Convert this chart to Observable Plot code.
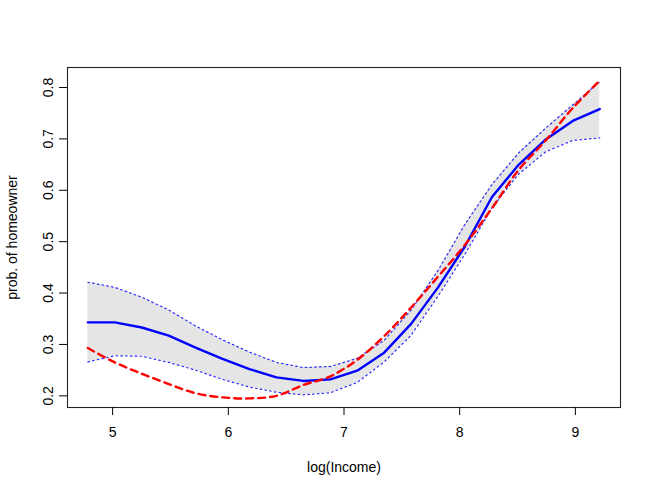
<!DOCTYPE html>
<html>
<head>
<meta charset="utf-8">
<script src="https://cdn.jsdelivr.net/npm/d3@7"></script>
<script src="https://cdn.jsdelivr.net/npm/@observablehq/plot@0.6"></script>
<style>
  html, body { margin: 0; padding: 0; background: #fff; }
  #chart svg { display: block; }
</style>
</head>
<body>
<div id="chart"></div>
<script>
// log(Income) grid
const logIncome = [4.786, 5.019, 5.252, 5.485, 5.717, 5.950, 6.183, 6.416, 6.649, 6.882,
                   7.114, 7.347, 7.580, 7.813, 8.046, 8.279, 8.511, 8.744, 8.977, 9.210];
// fitted probability (blue solid)
const fitted = [0.343, 0.343, 0.333, 0.317, 0.294, 0.272, 0.252, 0.236, 0.229, 0.232,
                0.249, 0.284, 0.340, 0.411, 0.491, 0.587, 0.650, 0.699, 0.735, 0.758];
// upper confidence bound (blue dotted)
const upper = [0.421, 0.411, 0.392, 0.367, 0.336, 0.309, 0.285, 0.265, 0.255, 0.257,
               0.273, 0.308, 0.367, 0.444, 0.534, 0.611, 0.673, 0.721, 0.766, 0.811];
// lower confidence bound (blue dotted)
const lower = [0.266, 0.278, 0.277, 0.265, 0.250, 0.232, 0.217, 0.207, 0.202, 0.206,
               0.226, 0.266, 0.318, 0.394, 0.476, 0.566, 0.632, 0.675, 0.697, 0.702];
// parametric fit (red dashed)
const parametric = [0.293, 0.265, 0.243, 0.223, 0.205, 0.197, 0.195, 0.200, 0.221, 0.238,
                    0.270, 0.316, 0.372, 0.432, 0.494, 0.565, 0.640, 0.697, 0.760, 0.813];

const xTicks = [5, 6, 7, 8, 9];
const yTicks = [0.2, 0.3, 0.4, 0.5, 0.6, 0.7, 0.8];

const data = logIncome.map((x, i) => ({
  x, fit: fitted[i], hi: upper[i], lo: lower[i], par: parametric[i]
}));

const chart = Plot.plot({
  width: 654,
  height: 491,
  marginLeft: 67,
  marginRight: 34,
  marginTop: 67,
  marginBottom: 84,
  style: {fontFamily: "'Liberation Sans', Arial, sans-serif", fontSize: "14px", color: "#000", background: "#fff"},
  x: {domain: [4.61, 9.39]},
  y: {domain: [0.1773, 0.8389]},
  marks: [
    Plot.areaY(data, {x: "x", y1: "lo", y2: "hi", fill: "#e5e5e5"}),
    Plot.line(data, {x: "x", y: "hi", stroke: "#2a2aff", strokeWidth: 1.2, strokeDasharray: "1.6,3.2"}),
    Plot.line(data, {x: "x", y: "lo", stroke: "#2a2aff", strokeWidth: 1.2, strokeDasharray: "1.6,3.2"}),
    Plot.line(data, {x: "x", y: "fit", stroke: "#0000ff", strokeWidth: 2.4}),
    Plot.line(data, {x: "x", y: "par", stroke: "#ff0000", strokeWidth: 2.4, strokeDasharray: "7,5", curve: "catmull-rom"}),
    Plot.frame({stroke: "#222", strokeWidth: 1.1}),
    Plot.axisX(xTicks, {tickSize: 8, tickPadding: 12, fontSize: 14, tickFormat: d => String(d), label: "log(Income)", labelAnchor: "center", labelArrow: "none", labelOffset: 64}),
    Plot.axisY(yTicks, {tickSize: 8, tickPadding: 7, tickRotate: -90, fontSize: 14, tickFormat: d3.format(".1f"), label: "prob. of homeowner", labelAnchor: "center", labelArrow: "none", labelOffset: 60})
  ]
});
document.getElementById("chart").appendChild(chart);
</script>
</body>
</html>
